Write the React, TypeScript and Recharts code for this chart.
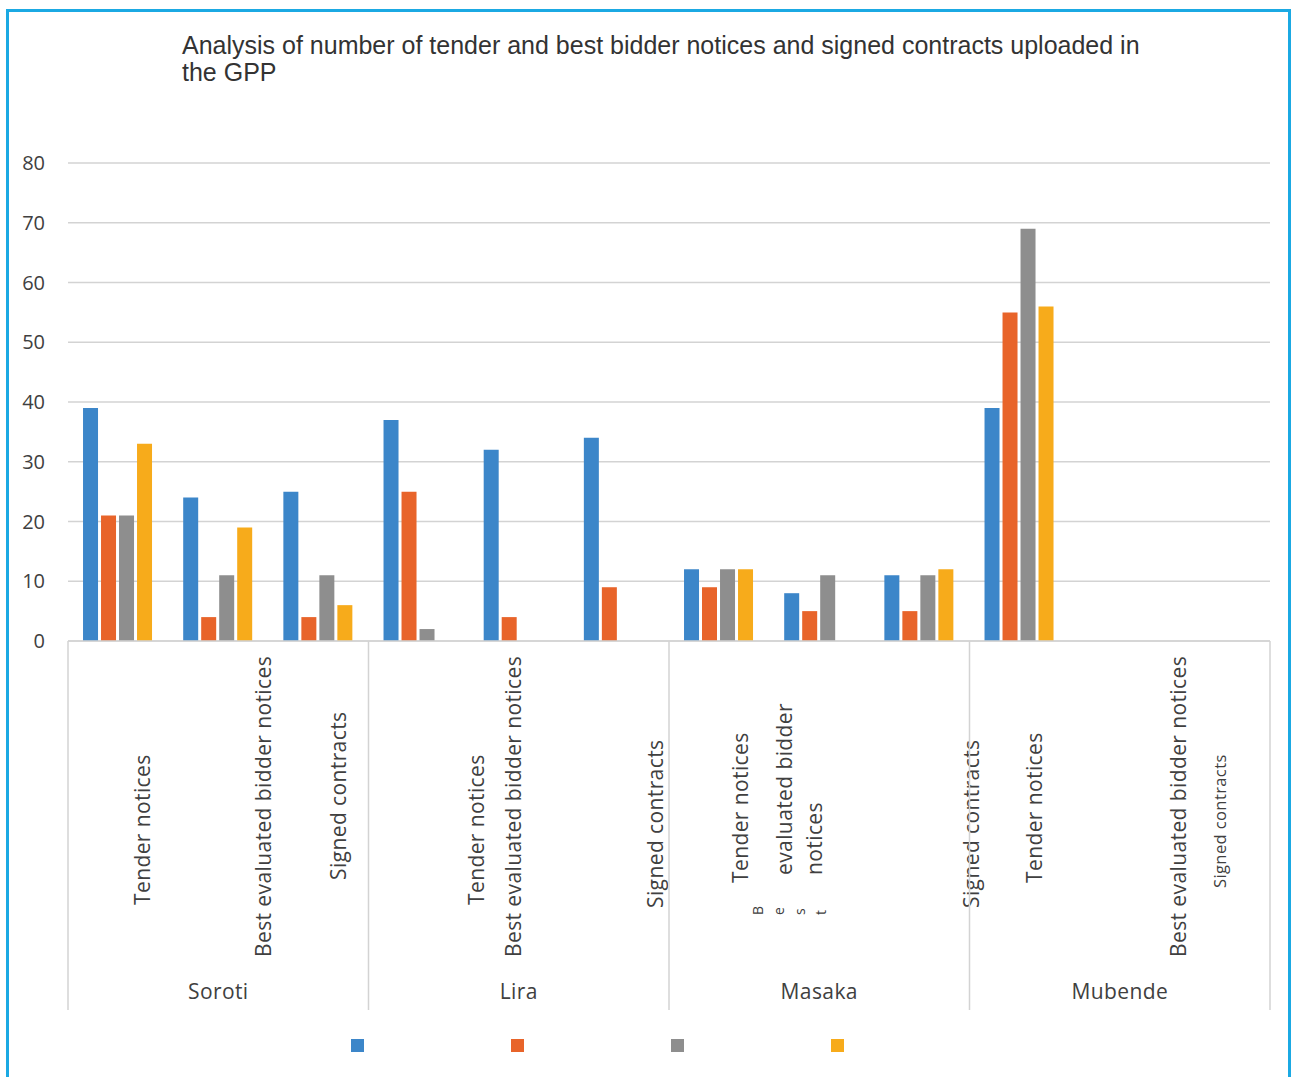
import { BarChart, Bar, XAxis, YAxis, CartesianGrid } from 'recharts'

const DISTRICTS = ['Soroti', 'Lira', 'Masaka', 'Mubende']
const DOC_TYPES = ['Tender notices', 'Best evaluated bidder notices', 'Signed contracts']

// one value per district/document type, in DISTRICTS x DOC_TYPES order
const BLUE = [39, 24, 25, 37, 32, 34, 12, 8, 11, 39, null, null]
const ORANGE = [21, 4, 4, 25, 4, 9, 9, 5, 5, 55, null, null]
const GRAY = [21, 11, 11, 2, null, null, 12, 11, 11, 69, null, null]
const YELLOW = [33, 19, 6, null, null, null, 12, null, 12, 56, null, null]

const Y_TICKS = [0, 10, 20, 30, 40, 50, 60, 70, 80]

const SERIES = [
  { key: 'blue', color: '#3c86c9', values: BLUE },
  { key: 'orange', color: '#e8642a', values: ORANGE },
  { key: 'gray', color: '#8e8e8e', values: GRAY },
  { key: 'yellow', color: '#f7ab1b', values: YELLOW },
]

const data = DISTRICTS.flatMap((d, di) =>
  DOC_TYPES.map((t, ti) => {
    const i = di * 3 + ti
    const row: Record<string, any> = { id: `${d}|${t}`, district: d, type: t }
    SERIES.forEach(s => { row[s.key] = s.values[i] })
    return row
  })
)

const W = 1291
const H = 1077
const PLOT_LEFT = 68
const PLOT_RIGHT = 1270
const PLOT_TOP = 163
const PLOT_BOTTOM = 641
const BAND = (PLOT_RIGHT - PLOT_LEFT) / data.length
const LABEL_FONT = '"Open Sans", Lato, sans-serif'
const TEXT = '#404040'
const RULE = '#d3d3d3'

// the axis labels are placed as unevenly as in the source picture:
// dx from the category centre, bottom = where the rotated text starts
const LABEL_LAYOUT = [
  { dx: 25, bottom: 905 }, { dx: 45, bottom: 957 }, { dx: 20, bottom: 880 },
  { dx: 58, bottom: 905 }, { dx: -5, bottom: 957 }, { dx: 37, bottom: 908 },
  { dx: 22, bottom: 883 }, { dx: -35, bottom: 875 }, { dx: 52, bottom: 908 },
  { dx: 15, bottom: 883 }, { dx: 59, bottom: 957 }, { dx: 0, bottom: 888, size: 16.5 },
]

function VText({ x, y, size = 21, children }: { x: number; y: number; size?: number; children: any }) {
  return (
    <text
      x={x}
      y={y}
      dy="0.35em"
      transform={`rotate(-90 ${x} ${y})`}
      fontFamily={LABEL_FONT}
      fontSize={size}
      letterSpacing={0.4}
      fill={TEXT}
      textAnchor="start"
    >
      {children}
    </text>
  )
}

function CategoryTick(props: any) {
  const { x, payload } = props
  const i: number = payload.index ?? props.index
  const row = data[i]
  const lay = LABEL_LAYOUT[i]
  const half = BAND / 2
  const first = i % 3 === 0
  const last = i === data.length - 1

  let label
  if (row.district === 'Masaka' && i % 3 === 1) {
    // this label got broken up in the original, keep it that way
    label = (
      <g>
        <VText x={x + lay.dx} y={lay.bottom}>evaluated bidder</VText>
        <VText x={x + lay.dx + 30} y={lay.bottom}>notices</VText>
        {'Best'.split('').map((c, k) => (
          <VText key={k} x={x - 61 + k * 21} y={915} size={14}>{c}</VText>
        ))}
      </g>
    )
  } else {
    label = <VText x={x + lay.dx} y={lay.bottom} size={lay.size ?? 21}>{row.type}</VText>
  }

  return (
    <g>
      {first && <line x1={x - half} x2={x - half} y1={PLOT_BOTTOM} y2={1010} stroke={RULE} strokeWidth={1.5} />}
      {last && <line x1={x + half} x2={x + half} y1={PLOT_BOTTOM} y2={1010} stroke={RULE} strokeWidth={1.5} />}
      {label}
      {i % 3 === 1 && (
        <text x={x} y={992} dy="0.35em" textAnchor="middle" fontFamily={LABEL_FONT} fontSize={21} letterSpacing={0.4} fill={TEXT}>
          {row.district}
        </text>
      )}
    </g>
  )
}

function ValueTick({ y, payload }: any) {
  return (
    <text x={45} y={y} dy="0.35em" textAnchor="end" fontFamily={LABEL_FONT} fontSize={20} fill={TEXT}>
      {payload.value}
    </text>
  )
}

export default function App() {
  return (
    <div style={{ position: 'fixed', left: 0, top: 0, width: W, height: H, overflow: 'hidden', background: '#fff' }}>
      <div
        style={{
          position: 'absolute', left: 6, top: 9, width: W - 6, height: H + 20,
          borderTop: '3px solid #1ba9e3', borderLeft: '3px solid #1ba9e3', borderRight: '3px solid #1ba9e3',
          boxSizing: 'border-box',
        }}
      />
      <div
        style={{
          position: 'absolute', left: 182, top: 32, width: 1050,
          fontFamily: '"Liberation Sans", Arial, sans-serif', fontSize: 25, lineHeight: '27px', color: '#333',
        }}
      >
        Analysis of number of tender and best bidder notices and signed contracts uploaded in<br />the GPP
      </div>
      <div style={{ position: 'absolute', left: 0, top: 0 }}>
        <BarChart
          width={W}
          height={H}
          data={data}
          margin={{ top: PLOT_TOP, right: W - PLOT_RIGHT, bottom: 0, left: 8 }}
          barCategoryGap="15%"
          barGap={3}
        >
          <CartesianGrid vertical={false} stroke={RULE} strokeWidth={1.5} />
          <XAxis
            dataKey="id"
            interval={0}
            height={H - PLOT_BOTTOM}
            tickLine={false}
            axisLine={{ stroke: RULE, strokeWidth: 1.5 }}
            tick={<CategoryTick />}
          />
          <YAxis
            width={PLOT_LEFT - 8}
            domain={[0, 80]}
            ticks={Y_TICKS}
            axisLine={false}
            tickLine={false}
            tick={<ValueTick />}
          />
          {SERIES.map(s => (
            <Bar key={s.key} dataKey={s.key} fill={s.color} isAnimationActive={false} />
          ))}
        </BarChart>
      </div>
      {SERIES.map((s, k) => (
        <div
          key={s.key}
          style={{ position: 'absolute', left: 351 + k * 160, top: 1039, width: 13, height: 13, background: s.color }}
        />
      ))}
    </div>
  )
}
